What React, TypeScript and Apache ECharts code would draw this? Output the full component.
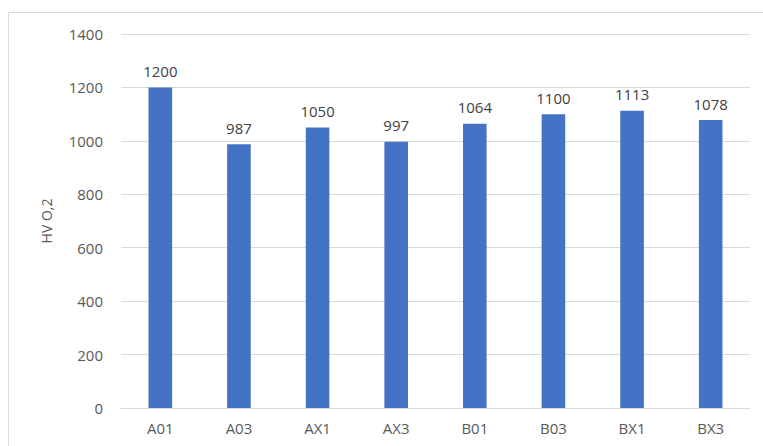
import React, { useEffect, useRef } from "react";
import * as echarts from "echarts";

const categories = ["A01", "A03", "AX1", "AX3", "B01", "B03", "BX1", "BX3"];
const values = [1200, 987, 1050, 997, 1064, 1100, 1113, 1078];
const yAxisTitle = "HV O,2";

export default function App() {
  const ref = useRef<HTMLDivElement>(null);
  useEffect(() => {
    if (!ref.current) return;
    const chart = echarts.init(ref.current, null, { renderer: "svg" });
    const font = "'Open Sans', 'Liberation Sans', sans-serif";
    chart.setOption({
      animation: false,
      backgroundColor: "#ffffff",
      graphic: [
        {
          type: "rect",
          shape: { x: 8.5, y: 12.5, width: 800, height: 500 },
          style: { fill: "none", stroke: "#d9d9d9", lineWidth: 1 },
          silent: true,
        },
      ],
      grid: { left: 121, right: 13, top: 34, bottom: 38 },
      xAxis: {
        type: "category",
        data: categories,
        axisTick: { show: false },
        axisLine: { show: true, lineStyle: { color: "#d9d9d9" } },
        axisLabel: { color: "#595959", fontSize: 15, fontFamily: font, margin: 12 },
      },
      yAxis: {
        type: "value",
        min: 0,
        max: 1400,
        interval: 200,
        name: yAxisTitle,
        nameLocation: "middle",
        nameGap: 68,
        nameRotate: 90,
        nameTextStyle: { color: "#595959", fontSize: 14, fontFamily: font },
        axisLine: { show: false },
        axisTick: { show: false },
        axisLabel: {
          color: "#595959",
          fontSize: 15,
          fontFamily: font,
          margin: 18,
          formatter: (v: number) => String(v),
        },
        splitLine: { lineStyle: { color: "#d9d9d9", width: 1 } },
      },
      series: [
        {
          type: "bar",
          data: values,
          barWidth: "30%",
          itemStyle: { color: "#4472C4" },
          label: {
            show: true,
            position: "top",
            distance: 9,
            color: "#404040",
            fontSize: 15,
            fontFamily: font,
          },
        },
      ],
    });
    return () => chart.dispose();
  }, []);
  return (
    <div
      ref={ref}
      style={{ position: "fixed", left: 0, top: 0, width: 763, height: 446 }}
    />
  );
}
